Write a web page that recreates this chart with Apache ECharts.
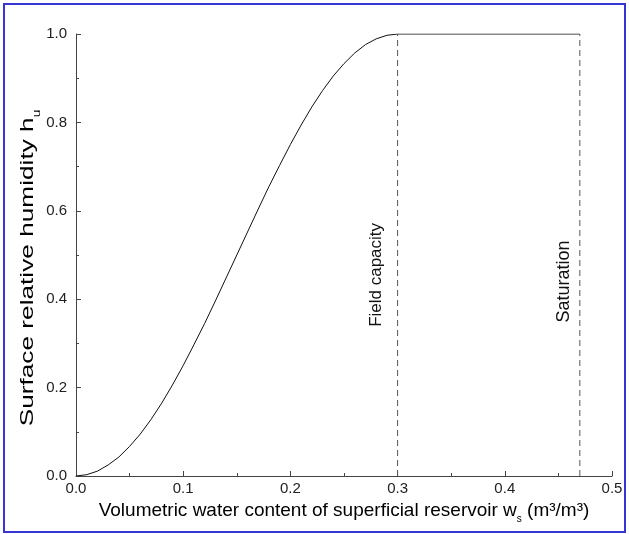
<!DOCTYPE html>
<html>
<head>
<meta charset="utf-8">
<script src="https://cdn.jsdelivr.net/npm/echarts@6/dist/echarts.min.js"></script>
<style>
  html, body { margin: 0; padding: 0; background: #fff; }
  #frame { position: absolute; left: 3px; top: 3px; width: 619px; height: 526px; border: 2px solid #3636d2; }
  #chart { position: absolute; left: 0; top: 0; width: 629px; height: 534px; }
</style>
</head>
<body>
<div id="frame"></div>
<div id="chart"></div>
<script>
// Volumetric water content w_s (m3/m3) and surface relative humidity h_u
const wValues = [0.00, 0.01, 0.02, 0.03, 0.04, 0.05, 0.06, 0.07, 0.08, 0.09, 0.10,
                 0.11, 0.12, 0.13, 0.14, 0.15, 0.16, 0.17, 0.18, 0.19, 0.20,
                 0.21, 0.22, 0.23, 0.24, 0.25, 0.26, 0.27, 0.28, 0.29, 0.30, 0.47];
const hValues = [0.000, 0.003, 0.011, 0.025, 0.043, 0.067, 0.095, 0.128, 0.165, 0.206, 0.250,
                 0.297, 0.345, 0.396, 0.448, 0.500, 0.552, 0.604, 0.655, 0.703, 0.750,
                 0.794, 0.835, 0.872, 0.905, 0.933, 0.957, 0.976, 0.989, 0.997, 1.000, 1.000];
const fieldCapacity = 0.30;
const saturation = 0.47;
const markerLabels = ['Field capacity', 'Saturation'];
const markerLabelH = [0.455, 0.44];
const xTickLabels = ['0.0', '0.1', '0.2', '0.3', '0.4', '0.5'];
const yTickLabels = ['0.0', '0.2', '0.4', '0.6', '0.8', '1.0'];
const xTitle = ['Volumetric water content of superficial reservoir w', 's', ' (m³/m³)'];
const yTitle = ['Surface relative humidity h', 'u'];

const chart = echarts.init(document.getElementById('chart'), null, { renderer: 'canvas' });
const FONT = '"Liberation Sans", Arial, sans-serif';
const axisColor = '#444';

const option = {
  animation: false,
  backgroundColor: 'transparent',
  grid: { left: 76, right: 17, top: 34, bottom: 58, containLabel: false },
  xAxis: {
    type: 'value', min: 0, max: 0.5, interval: 0.1,
    splitLine: { show: false },
    axisLine: { show: true, onZero: false, lineStyle: { color: axisColor, width: 1 } },
    axisTick: { show: true, inside: true, length: 5, lineStyle: { color: axisColor } },
    minorTick: { show: true, splitNumber: 2, length: 3, lineStyle: { color: axisColor } },
    axisLabel: { color: '#222', fontFamily: FONT, fontSize: 15, margin: 5,
      formatter: v => xTickLabels[Math.round(v * 10)] },
    name: '{t|' + xTitle[0] + '}{sub|' + xTitle[1] + '}{t|' + xTitle[2] + '}',
    nameLocation: 'middle', nameGap: 21,
    nameTextStyle: {
      color: '#000', fontFamily: FONT, fontSize: 19,
      rich: {
        t: { fontFamily: FONT, fontSize: 19, color: '#000', lineHeight: 22 },
        sub: { fontFamily: FONT, fontSize: 10, color: '#000', verticalAlign: 'bottom', lineHeight: 22, padding: [0, 0, -3, 0] }
      }
    }
  },
  yAxis: {
    type: 'value', min: 0, max: 1, interval: 0.2,
    splitLine: { show: false },
    axisLine: { show: true, onZero: false, lineStyle: { color: axisColor, width: 1 } },
    axisTick: { show: true, inside: true, length: 5, lineStyle: { color: axisColor } },
    minorTick: { show: true, splitNumber: 2, length: 3, lineStyle: { color: axisColor } },
    axisLabel: { color: '#222', fontFamily: FONT, fontSize: 15, margin: 9,
      formatter: v => yTickLabels[Math.round(v * 5)] }
  },
  series: [
    {
      type: 'line', showSymbol: false, symbol: 'none', smooth: false,
      data: wValues.map((w, i) => [w, hValues[i]]),
      lineStyle: { color: '#111', width: 1 },
      z: 3
    },
    {
      type: 'line', showSymbol: false, symbol: 'none',
      data: [[fieldCapacity, 0], [fieldCapacity, 1]],
      lineStyle: { color: '#555', width: 1, type: [6, 4] }
    },
    {
      type: 'line', showSymbol: false, symbol: 'none',
      data: [[saturation, 0], [saturation, 1]],
      lineStyle: { color: '#555', width: 1, type: [6, 4] }
    }
  ]
};
chart.setOption(option);

const p1 = chart.convertToPixel({ gridIndex: 0 }, [fieldCapacity, markerLabelH[0]]);
const p2 = chart.convertToPixel({ gridIndex: 0 }, [saturation, markerLabelH[1]]);
chart.setOption({
  graphic: [
    { type: 'text', x: p1[0] - 13, y: p1[1], rotation: Math.PI / 2,
      style: { text: markerLabels[0], fill: '#111', font: '17px ' + FONT, align: 'center', verticalAlign: 'bottom' } },
    { type: 'text', x: p2[0] - 7, y: p2[1], rotation: Math.PI / 2,
      style: { text: markerLabels[1], fill: '#111', font: '18px ' + FONT, align: 'center', verticalAlign: 'bottom' } },
    { type: 'text', x: 39, y: 268, rotation: Math.PI / 2, scaleX: 1.38, scaleY: 1,
      style: {
        text: '{t|' + yTitle[0] + '}{sub|' + yTitle[1] + '}',
        align: 'center', verticalAlign: 'bottom',
        rich: {
          t: { fontFamily: FONT, fontSize: 19, fill: '#000', lineHeight: 22 },
          sub: { fontFamily: FONT, fontSize: 10, fill: '#000', verticalAlign: 'bottom', lineHeight: 22, padding: [0, 0, -3, 0] }
        }
      } }
  ]
});
</script>
</body>
</html>
